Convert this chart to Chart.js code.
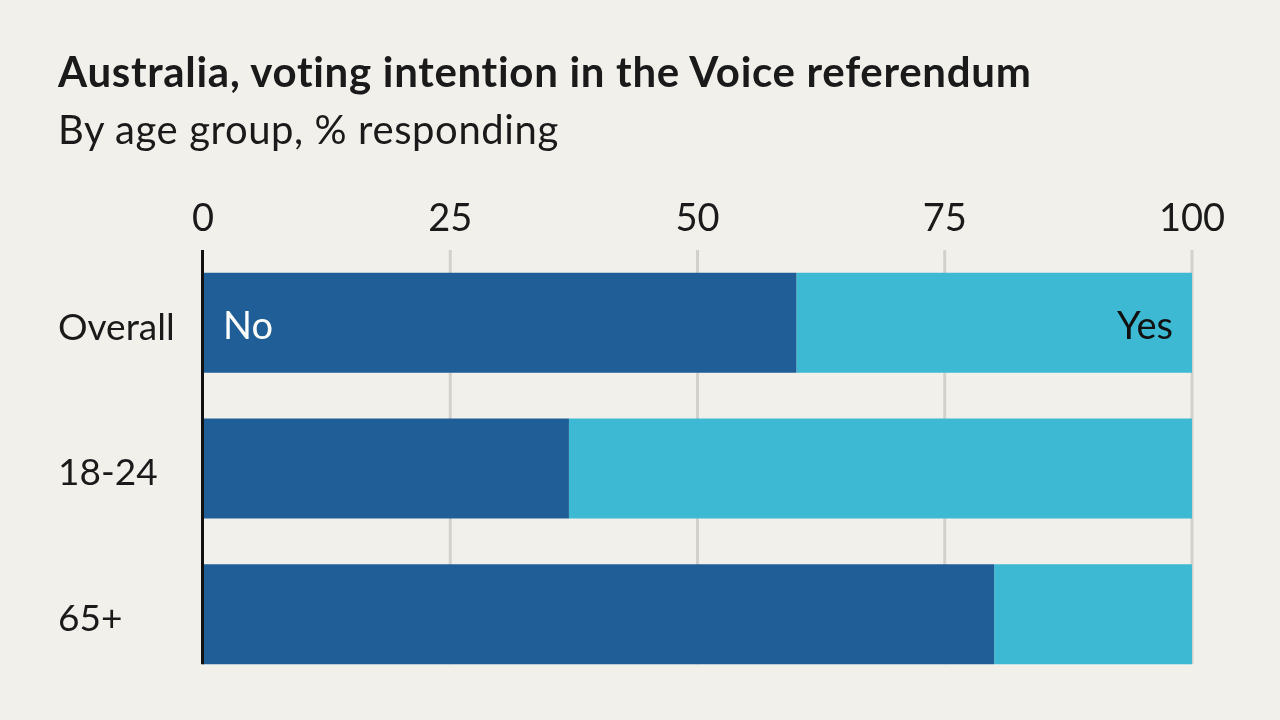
<!DOCTYPE html>
<html>
<head>
<meta charset="utf-8">
<script src="https://cdn.jsdelivr.net/npm/chart.js@4"></script>
<style>
  html, body { margin: 0; padding: 0; background: #f2f0eb; }
  #wrap { position: relative; width: 1280px; height: 720px; overflow: hidden; }
  #title { position: absolute; left: 58px; top: 46px; font-family: Lato, sans-serif; font-weight: 700; font-size: 42px; letter-spacing: 0.7px; color: #1a1a1a; white-space: nowrap; }
  #subtitle { position: absolute; left: 58px; top: 105px; font-family: Lato, sans-serif; font-weight: 400; font-size: 40px; letter-spacing: 0.6px; color: #1a1a1a; white-space: nowrap; }
  #c { position: absolute; left: 0; top: 0; }
</style>
</head>
<body>
<div id="wrap">
  <canvas id="c" width="1280" height="720"></canvas>
  <div id="title">Australia, voting intention in the Voice referendum</div>
  <div id="subtitle">By age group, % responding</div>
</div>
<script>
const categories = ["Overall", "18-24", "65+"];
const noValues = [60, 37, 80];
const yesValues = [40, 63, 20];
const xTicks = [0, 25, 50, 75, 100];
const seriesNames = ["No", "Yes"];

const FONT = "Lato, sans-serif";

const gridPlugin = {
  id: "customGrid",
  beforeDatasetsDraw(chart) {
    const ctx = chart.ctx;
    const x = chart.scales.x;
    const area = chart.chartArea;
    const meta = chart.getDatasetMeta(0);
    const last = meta.data[meta.data.length - 1];
    const bottom = last.y + last.height / 2;
    ctx.save();
    ctx.strokeStyle = "#d3d1cd";
    ctx.lineWidth = 3;
    xTicks.forEach(v => {
      if (v === 0) return;
      const px = x.getPixelForValue(v);
      ctx.beginPath();
      ctx.moveTo(px, area.top);
      ctx.lineTo(px, bottom);
      ctx.stroke();
    });
    ctx.restore();
  },
  afterDatasetsDraw(chart) {
    const ctx = chart.ctx;
    const x = chart.scales.x;
    const area = chart.chartArea;
    const meta = chart.getDatasetMeta(0);
    const last = meta.data[meta.data.length - 1];
    const bottom = last.y + last.height / 2;
    ctx.save();
    ctx.strokeStyle = "#111111";
    ctx.lineWidth = 3;
    const px = x.getPixelForValue(0);
    ctx.beginPath();
    ctx.moveTo(px - 0.5, area.top);
    ctx.lineTo(px - 0.5, bottom);
    ctx.stroke();

    // series labels in first bar
    const noBar = chart.getDatasetMeta(0).data[0];
    const yesBar = chart.getDatasetMeta(1).data[0];
    ctx.font = "400 38px " + FONT;
    ctx.textBaseline = "middle";
    ctx.fillStyle = "#ffffff";
    ctx.textAlign = "left";
    ctx.fillText(seriesNames[0], noBar.base + 20, noBar.y + 4);
    ctx.fillStyle = "#111111";
    ctx.textAlign = "right";
    ctx.fillText(seriesNames[1], yesBar.x - 19, yesBar.y + 4);
    ctx.restore();
  }
};

new Chart(document.getElementById("c"), {
  type: "bar",
  data: {
    labels: categories,
    datasets: [
      { label: seriesNames[0], data: noValues, backgroundColor: "#1f5e96", borderWidth: 0 },
      { label: seriesNames[1], data: yesValues, backgroundColor: "#3db9d3", borderWidth: 0 }
    ]
  },
  options: {
    indexAxis: "y",
    responsive: false,
    animation: false,
    devicePixelRatio: 1,
    layout: { padding: { left: 58, right: 88, top: 190, bottom: 33 } },
    plugins: { legend: { display: false }, tooltip: { enabled: false }, title: { display: false } },
    datasets: { bar: { categoryPercentage: 1, barPercentage: 0.687 } },
    scales: {
      x: {
        position: "top",
        stacked: true,
        min: 0, max: 100,
        afterBuildTicks(scale) { scale.ticks = xTicks.map(v => ({ value: v })); },
        afterFit(scale) { scale.height = 60; },
        grid: { display: false, drawTicks: false },
        border: { display: false },
        ticks: { color: "#1a1a1a", font: { family: FONT, size: 38 }, padding: 8, maxRotation: 0 }
      },
      y: {
        stacked: true,
        afterFit(scale) { scale.width = 145; },
        grid: { display: false, drawTicks: false },
        border: { display: false },
        ticks: { color: "#1a1a1a", font: { family: FONT, size: 37 }, crossAlign: "far", padding: 0, labelOffset: 5 }
      }
    }
  },
  plugins: [gridPlugin]
});
</script>
</body>
</html>
